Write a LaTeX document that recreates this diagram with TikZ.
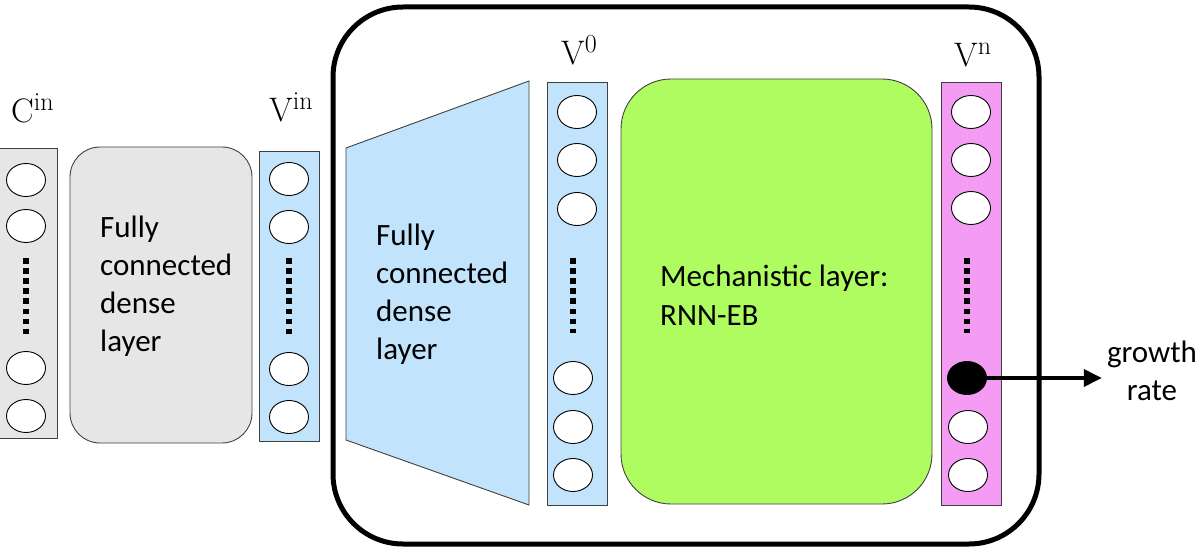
\documentclass[tikz,border=0pt]{standalone}
\usepackage[no-math]{fontspec}
\setmainfont{Carlito}
\newfontfamily\labelfont{Latin Modern Roman}
\usetikzlibrary{shapes.geometric,arrows.meta}

\definecolor{boxgray}{HTML}{E6E6E6}
\definecolor{layerblue}{HTML}{C1E4FC}
\definecolor{mechgreen}{HTML}{AFFC60}
\definecolor{outpink}{HTML}{F49CF4}
\definecolor{edgegray}{HTML}{404040}

% layer name with a raised tag, e.g. V with "in"
\newcommand{\layername}[2]{#1\raisebox{12pt}{\fontsize{26}{26}\selectfont #2}}

\tikzset{
  column/.style={rectangle, draw=edgegray, line width=0.9pt, inner sep=0pt},
  unit/.style={ellipse, draw=black, fill=white, line width=0.9pt, inner sep=0pt,
               minimum width=39pt, minimum height=33pt},
  unitdots/.style={line width=5.5pt, dash pattern=on 5.5pt off 4.6pt},
  bodytext/.style={font=\fontsize{31}{38}\selectfont, inner sep=0pt, align=left},
  layerlabel/.style={font=\labelfont\fontsize{34}{38}\selectfont, inner sep=0pt, anchor=base west},
}

\begin{document}
\begin{tikzpicture}[x=1pt, y=-1pt]
\useasboundingbox (0,0) rectangle (1204,548);

% outer frame around the trainable core
\node[rectangle, draw=black, line width=5pt, rounded corners=70pt,
      minimum width=706pt, minimum height=537pt] (frame) at (686,275.5) {};

% input column C^in
\node[column, fill=boxgray, minimum width=60pt, minimum height=290pt] (cin) at (27,293) {};
\node[unit] (c1) at (26,180) {};
\node[unit] (c2) at (26,226) {};
\node[unit] (c3) at (26,368) {};
\node[unit] (c4) at (26,416) {};
\draw[unitdots] (26,258) -- (26,334);
\node[layerlabel] (cinlab) at (11,123) {\layername{C}{in}};

% first dense layer
\node[rectangle, draw=edgegray, line width=0.9pt, fill=boxgray, rounded corners=30pt,
      minimum width=182pt, minimum height=296pt] (dense1) at (161,295) {};
\node[bodytext, anchor=west] (dense1txt) at (100,286.5) {Fully\\connected\\dense\\layer};

% column V^in
\node[column, fill=layerblue, minimum width=60pt, minimum height=290pt] (vin) at (289,296) {};
\node[unit] (vi1) at (289,179) {};
\node[unit] (vi2) at (289,227) {};
\node[unit] (vi3) at (289,369) {};
\node[unit] (vi4) at (289,417) {};
\draw[unitdots] (289,258) -- (289,334);
\node[layerlabel] (vinlab) at (269,122) {\layername{V}{in}};

% widening dense layer (trapezoid)
\draw[draw=edgegray, line width=0.9pt, fill=layerblue]
  (346,148) -- (529,81) -- (529,505) -- (346,440) -- cycle;
\node[bodytext, anchor=west] (dense2txt) at (376,294.5) {Fully\\connected\\dense\\layer};

% column V^0
\node[column, fill=layerblue, minimum width=60pt, minimum height=423pt] (v0) at (577,293.5) {};
\node[unit] (z1) at (577,112) {};
\node[unit] (z2) at (577,160) {};
\node[unit] (z3) at (577,209) {};
\node[unit] (z4) at (573,378) {};
\node[unit] (z5) at (573,427) {};
\node[unit] (z6) at (573,475) {};
\draw[unitdots] (573,258) -- (573,333);
\node[layerlabel] (v0lab) at (561,65) {\layername{V}{0}};

% mechanistic layer
\node[rectangle, draw=edgegray, line width=0.9pt, fill=mechgreen, rounded corners=50pt,
      minimum width=311pt, minimum height=425pt] (mech) at (776.5,291.5) {};
\node[bodytext, anchor=west, font=\fontsize{31}{39.5}\selectfont] (mechtxt) at (660,295)
  {Mechanistic layer:\\RNN-EB};

% output column V^n
\node[column, fill=outpink, minimum width=60pt, minimum height=423pt] (vn) at (971,293.5) {};
\node[unit] (n1) at (971,112) {};
\node[unit] (n2) at (971,160) {};
\node[unit] (n3) at (971,208) {};
\node[unit, fill=black] (nout) at (967,378) {};
\node[unit] (n5) at (968,427) {};
\node[unit] (n6) at (968,475) {};
\draw[unitdots] (967,258) -- (967,333);
\node[layerlabel] (vnlab) at (954,67) {\layername{V}{n}};

% readout
\node[bodytext, align=center] (growth) at (1152,370.5) {growth\\rate};
\draw[line width=3.5pt, shorten >=5pt, -{Triangle[length=18pt, width=17pt]}]
  (nout.east) -- (nout.east -| growth.west);
\end{tikzpicture}
\end{document}
